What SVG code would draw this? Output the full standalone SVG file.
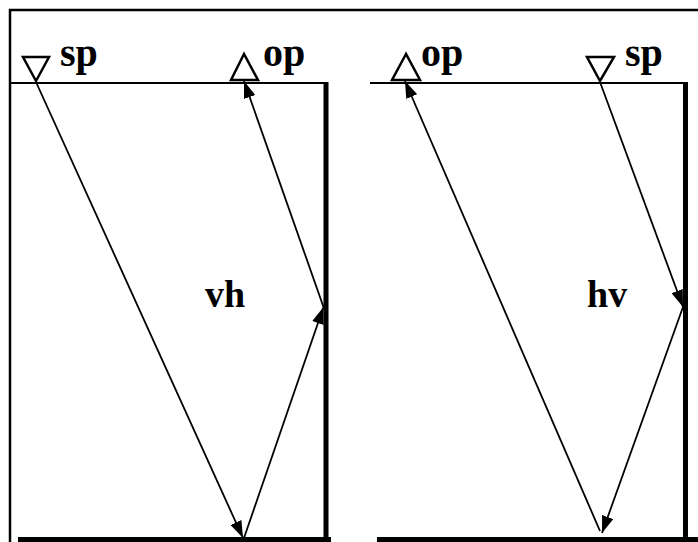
<svg xmlns="http://www.w3.org/2000/svg" width="698" height="542" viewBox="0 0 698 542">
<style>
.frame{fill:none;stroke:#000;stroke-width:2.5}
.thin{stroke:#000;stroke-width:1.8;fill:none}
.wall{stroke:#000;stroke-width:5;fill:none}
.ray{stroke:#000;stroke-width:1.8;fill:none}
.tri{fill:#fff;stroke:#000;stroke-width:2.5}
.lbl{font-family:"Liberation Serif","Times New Roman",serif;font-weight:bold;font-size:40px;fill:#000}
.big{font-family:"Liberation Serif","Times New Roman",serif;font-weight:bold;font-size:38px;fill:#000}
</style>
<defs>
<marker id="ah" viewBox="0 0 17 12" refX="17" refY="6" markerWidth="17" markerHeight="12" markerUnits="userSpaceOnUse" orient="auto">
<path d="M0,0 L17,6 L0,12 z" fill="#000"/>
</marker>
</defs>
<rect class="frame" x="10" y="10" width="700" height="545"/>
<g id="left-panel">
<line class="thin" x1="11" y1="83" x2="326" y2="83"/>
<line class="wall" x1="326" y1="82" x2="326" y2="540"/>
<line class="wall" x1="18" y1="539.5" x2="331" y2="539.5"/>
</g>
<g id="right-panel">
<line class="thin" x1="370" y1="83" x2="685" y2="83"/>
<line class="wall" x1="685.5" y1="82" x2="685.5" y2="542"/>
<line class="wall" x1="377" y1="539.5" x2="698" y2="539.5"/>
</g>
<g id="connectors">
<line class="ray" x1="36" y1="82" x2="243" y2="538" marker-end="url(#ah)"/>
<line class="ray" x1="244" y1="538" x2="323.5" y2="307" marker-end="url(#ah)"/>
<line class="ray" x1="323.5" y1="307" x2="244" y2="81" marker-end="url(#ah)"/>
<line class="ray" x1="600" y1="82" x2="683" y2="307" marker-end="url(#ah)"/>
<line class="ray" x1="683" y1="307" x2="602" y2="533" marker-end="url(#ah)"/>
<line class="ray" x1="600" y1="531" x2="405" y2="81" marker-end="url(#ah)"/>
</g>
<g id="sp-left">
<polygon class="tri" points="23,57 49,57 36,81"/>
<text class="lbl" x="60" y="66">sp</text>
</g>
<g id="op-left">
<polygon class="tri" points="244,54 231,80 258,80"/>
<text class="lbl" x="263" y="66">op</text>
</g>
<g id="op-right">
<polygon class="tri" points="406,54 392,80 420,80"/>
<text class="lbl" x="421" y="66">op</text>
</g>
<g id="sp-right">
<polygon class="tri" points="587,57 614,57 600,81"/>
<text class="lbl" x="625" y="66">sp</text>
</g>
<g id="label-vh"><text class="big" x="205" y="307">vh</text></g>
<g id="label-hv"><text class="big" x="587" y="307">hv</text></g>
</svg>
